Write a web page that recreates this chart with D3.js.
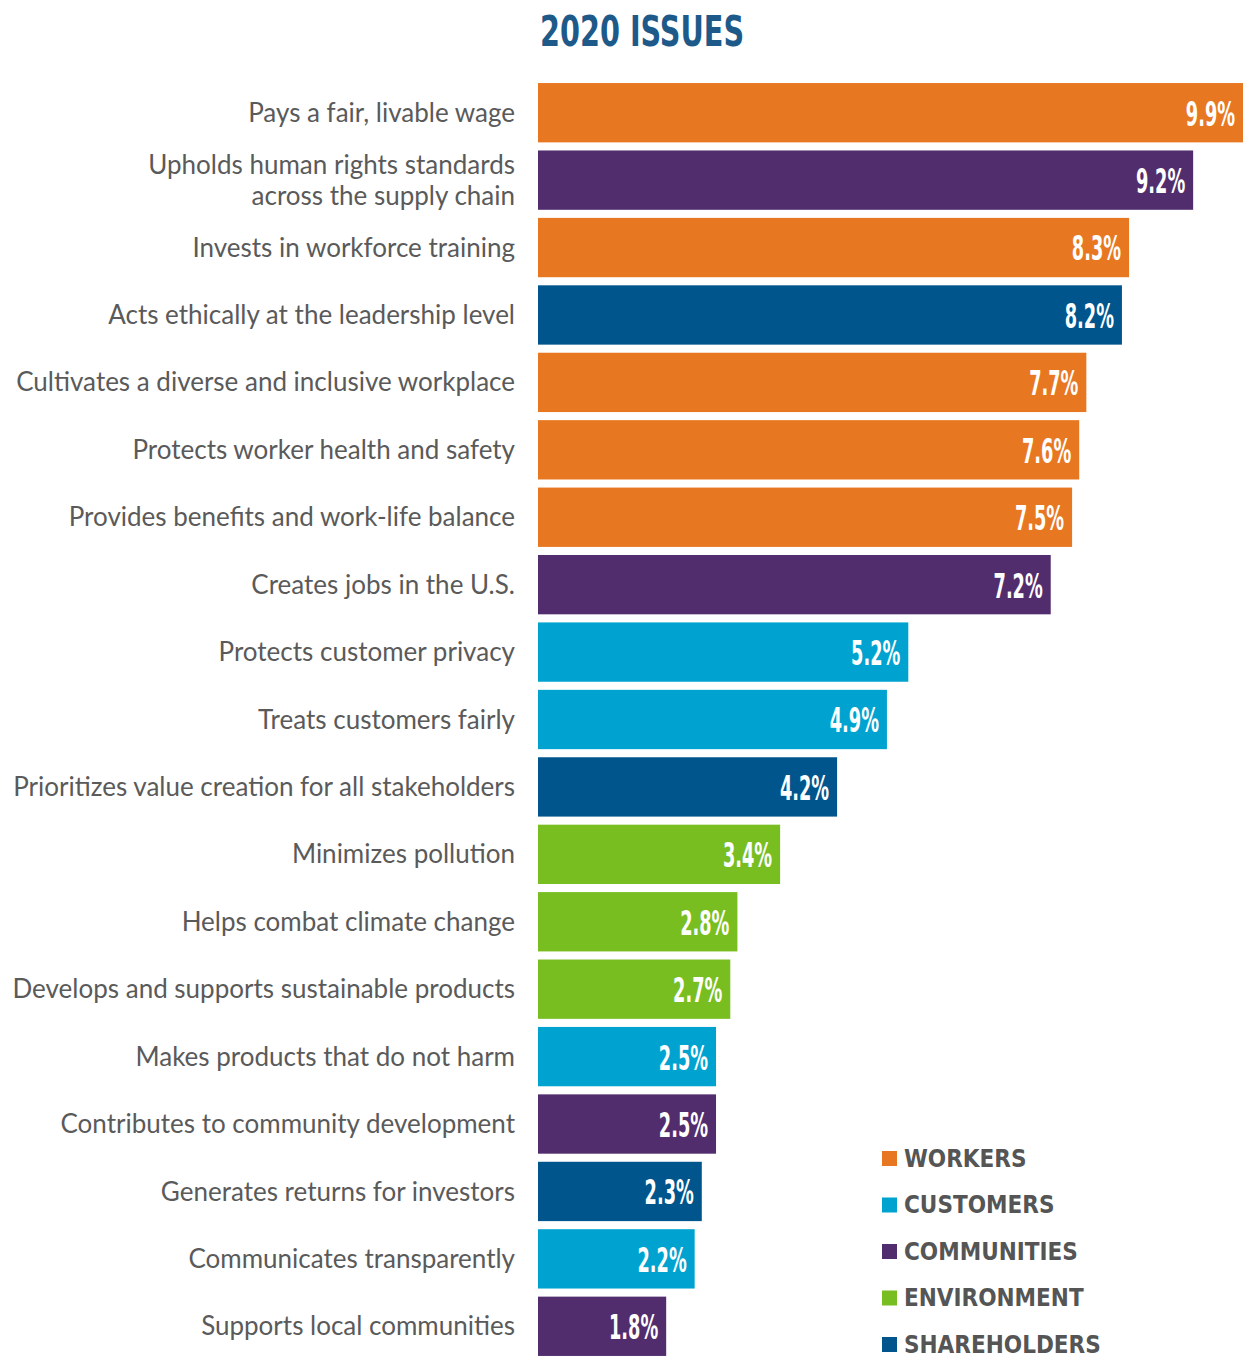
<!DOCTYPE html>
<html>
<head>
<meta charset="utf-8">
<script src="https://cdn.jsdelivr.net/npm/d3@7"></script>
<style>
  html, body { margin: 0; padding: 0; background: #fff; }
  svg { display: block; }
  .label { font-family: Lato, "Open Sans", sans-serif; font-size: 26px; fill: #5a5a5a; }
  .value { font-family: "DejaVu Sans Condensed", "Liberation Sans Narrow", sans-serif; font-weight: bold; font-stretch: condensed; font-size: 34px; fill: #fff; }
  .title { font-family: "DejaVu Sans Condensed", sans-serif; font-weight: bold; font-stretch: condensed; font-size: 42px; fill: #1d5a8a; }
  .legend { font-family: "DejaVu Sans Condensed", sans-serif; font-weight: bold; font-stretch: condensed; font-size: 24px; fill: #555; }
</style>
</head>
<body>
<div id="chart"></div>
<script>
  // issues, top to bottom
  var issues = [
    ["Pays a fair, livable wage"],
    ["Upholds human rights standards", "across the supply chain"],
    ["Invests in workforce training"],
    ["Acts ethically at the leadership level"],
    ["Cultivates a diverse and inclusive workplace"],
    ["Protects worker health and safety"],
    ["Provides benefits and work-life balance"],
    ["Creates jobs in the U.S."],
    ["Protects customer privacy"],
    ["Treats customers fairly"],
    ["Prioritizes value creation for all stakeholders"],
    ["Minimizes pollution"],
    ["Helps combat climate change"],
    ["Develops and supports sustainable products"],
    ["Makes products that do not harm"],
    ["Contributes to community development"],
    ["Generates returns for investors"],
    ["Communicates transparently"],
    ["Supports local communities"]
  ];
  var values = [9.9, 9.2, 8.3, 8.2, 7.7, 7.6, 7.5, 7.2, 5.2, 4.9, 4.2, 3.4, 2.8, 2.7, 2.5, 2.5, 2.3, 2.2, 1.8];
  var groups = ["WORKERS", "COMMUNITIES", "WORKERS", "SHAREHOLDERS", "WORKERS", "WORKERS", "WORKERS", "COMMUNITIES",
                "CUSTOMERS", "CUSTOMERS", "SHAREHOLDERS", "ENVIRONMENT", "ENVIRONMENT", "ENVIRONMENT",
                "CUSTOMERS", "COMMUNITIES", "SHAREHOLDERS", "CUSTOMERS", "COMMUNITIES"];
  var legendNames = ["WORKERS", "CUSTOMERS", "COMMUNITIES", "ENVIRONMENT", "SHAREHOLDERS"];
  var legendColors = ["#e87722", "#00a3d0", "#522d6e", "#78be20", "#00558c"];

  var width = 1244, height = 1359;
  var svg = d3.select("#chart").append("svg").attr("width", width).attr("height", height);

  var x = d3.scaleLinear().domain([0, 9.9]).range([538, 1243]);
  var y = d3.scaleBand().domain(d3.range(values.length)).range([79, 1360]).paddingInner(0.12).paddingOuter(0.06);
  var color = d3.scaleOrdinal().domain(legendNames).range(legendColors);

  svg.append("text").attr("class", "title")
    .attr("transform", "translate(540,46) scale(0.76,1)")
    .text("2020 ISSUES");

  var rows = svg.selectAll("g.row").data(values).enter().append("g").attr("class", "row");

  rows.append("rect")
    .attr("x", x(0))
    .attr("y", function(d, i) { return y(i); })
    .attr("width", function(d) { return x(d) - x(0); })
    .attr("height", y.bandwidth())
    .attr("fill", function(d, i) { return color(groups[i]); });

  // narrow bold numbers, squeezed sideways
  rows.append("text")
    .attr("class", "value")
    .attr("text-anchor", "end")
    .attr("transform", function(d, i) {
      return "translate(" + (x(d) - 8) + "," + (y(i) + y.bandwidth() / 2) + ") scale(0.58,1)";
    })
    .attr("dy", "0.38em")
    .text(function(d) { return d.toFixed(1) + "%"; });

  rows.append("text")
    .attr("class", "label")
    .attr("text-anchor", "end")
    .attr("x", 515)
    .attr("y", function(d, i) { return y(i) + y.bandwidth() / 2; })
    .each(function(d, i) {
      var lines = issues[i];
      var t = d3.select(this);
      lines.forEach(function(line, j) {
        t.append("tspan")
          .attr("x", 515)
          .attr("dy", j === 0 ? (0.35 - (lines.length - 1) * 0.6) + "em" : "1.2em")
          .text(line);
      });
    });

  // legend
  var leg = svg.selectAll("g.leg").data(legendNames).enter().append("g")
    .attr("class", "leg")
    .attr("transform", function(d, i) { return "translate(882," + (1158 + i * 46.5) + ")"; });
  leg.append("rect").attr("x", 0).attr("y", -7).attr("width", 15).attr("height", 15)
    .attr("fill", function(d) { return color(d); });
  leg.append("text").attr("class", "legend").attr("x", 22).attr("dy", "0.36em").text(function(d) { return d; });
</script>
</body>
</html>
